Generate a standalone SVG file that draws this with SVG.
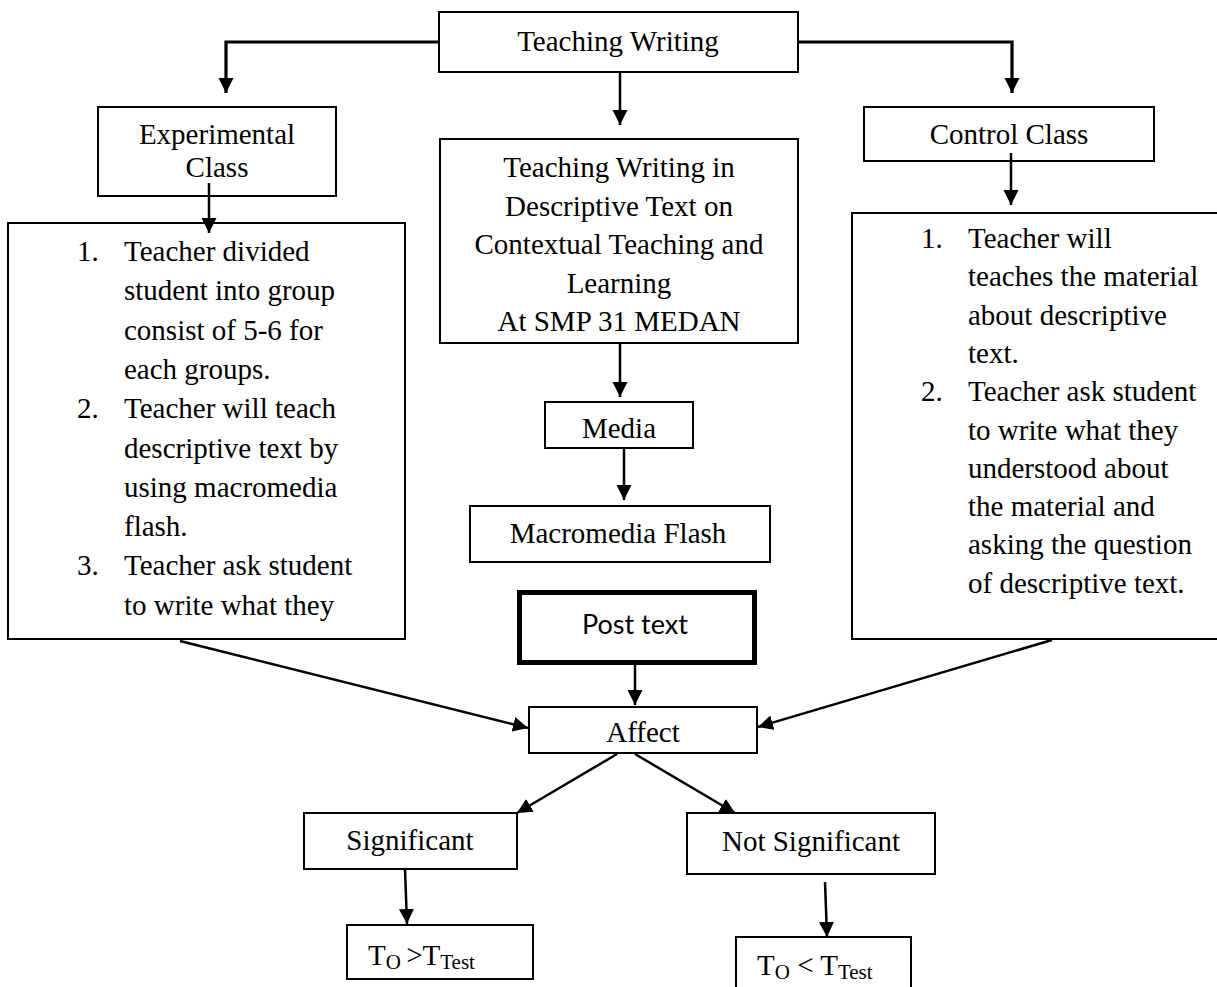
<svg xmlns="http://www.w3.org/2000/svg" width="1217" height="987" viewBox="0 0 1217 987">
<defs>
<marker id="ah" markerUnits="userSpaceOnUse" markerWidth="16" markerHeight="16" refX="15" refY="8" orient="auto">
<path d="M0,0.5 L15,8 L0,15.5 z" fill="#000"/>
</marker>
<style>
.box{fill:#fff;stroke:#000;stroke-width:2}
.t{font-family:"Liberation Serif","Times New Roman",serif;font-size:29px;fill:#000}
.c{text-anchor:middle}
.sub{font-size:21px}
.con{fill:none;stroke:#000;stroke-width:2.5}
.top{stroke-width:3.2}
.sans{font-family:Lato,"Noto Sans","Liberation Sans",sans-serif;font-size:27px;fill:#000;text-anchor:middle}
</style>
</defs>
<rect width="1217" height="987" fill="#fff"/>

<g id="teaching-writing">
<rect class="box" x="439" y="12" width="359" height="60"/>
<text class="t c" x="618" y="51">Teaching Writing</text>
</g>

<g id="experimental-class">
<rect class="box" x="98" y="107" width="238" height="89"/>
<text class="t c" x="217" y="144">Experimental</text>
<text class="t c" x="217" y="177">Class</text>
</g>

<g id="control-class">
<rect class="box" x="864" y="107" width="290" height="54"/>
<text class="t c" x="1009" y="144">Control Class</text>
</g>

<g id="center-topic">
<rect class="box" x="440" y="139" width="358" height="204"/>
<text class="t c" x="619" y="177">Teaching Writing in</text>
<text class="t c" x="619" y="215.5">Descriptive Text on</text>
<text class="t c" x="619" y="254">Contextual Teaching and</text>
<text class="t c" x="619" y="292.5">Learning</text>
<text class="t c" x="619" y="331">At SMP 31 MEDAN</text>
</g>

<g id="experimental-steps">
<rect class="box" x="8" y="223" width="397" height="416"/>
<text class="t" x="77" y="261">1.</text>
<text class="t" x="124" y="261">Teacher divided</text>
<text class="t" x="124" y="300.3">student into group</text>
<text class="t" x="124" y="339.6">consist of 5-6 for</text>
<text class="t" x="124" y="378.9">each groups.</text>
<text class="t" x="77" y="418.2">2.</text>
<text class="t" x="124" y="418.2">Teacher will teach</text>
<text class="t" x="124" y="457.5">descriptive text by</text>
<text class="t" x="124" y="496.8">using macromedia</text>
<text class="t" x="124" y="536.1">flash.</text>
<text class="t" x="77" y="575.4">3.</text>
<text class="t" x="124" y="575.4">Teacher ask student</text>
<text class="t" x="124" y="614.7">to write what they</text>
</g>

<g id="control-steps">
<rect class="box" x="852" y="213" width="370" height="426"/>
<text class="t" x="921" y="248">1.</text>
<text class="t" x="968" y="248">Teacher will</text>
<text class="t" x="968" y="286.3">teaches the material</text>
<text class="t" x="968" y="324.6">about descriptive</text>
<text class="t" x="968" y="362.9">text.</text>
<text class="t" x="921" y="401.2">2.</text>
<text class="t" x="968" y="401.2">Teacher ask student</text>
<text class="t" x="968" y="439.5">to write what they</text>
<text class="t" x="968" y="477.8">understood about</text>
<text class="t" x="968" y="516.1">the material and</text>
<text class="t" x="968" y="554.4">asking the question</text>
<text class="t" x="968" y="592.7">of descriptive text.</text>
</g>

<g id="media">
<rect class="box" x="545" y="402" width="148" height="46"/>
<text class="t c" x="619" y="438">Media</text>
</g>

<g id="macromedia-flash">
<rect class="box" x="470" y="506" width="300" height="56"/>
<text class="t c" x="618" y="543">Macromedia Flash</text>
</g>

<g id="post-text">
<rect x="519.5" y="592.5" width="235" height="70" fill="#fff" stroke="#000" stroke-width="5"/>
<text class="sans" x="635" y="634">Post text</text>
</g>

<g id="affect">
<rect class="box" x="529" y="707" width="228" height="46"/>
<text class="t c" x="643" y="742">Affect</text>
</g>

<g id="significant">
<rect class="box" x="304" y="813" width="213" height="56"/>
<text class="t c" x="410" y="850">Significant</text>
</g>

<g id="not-significant">
<rect class="box" x="687" y="813" width="248" height="61"/>
<text class="t c" x="811" y="851">Not Significant</text>
</g>

<g id="t-greater">
<rect class="box" x="347" y="925" width="186" height="54"/>
<text class="t" x="368" y="965">T<tspan class="sub" dy="4">O </tspan><tspan dy="-4">&gt;T</tspan><tspan class="sub" dy="4">Test</tspan></text>
</g>

<g id="t-less">
<rect class="box" x="736" y="937" width="175" height="60"/>
<text class="t" x="757" y="975">T<tspan class="sub" dy="4">O</tspan><tspan dy="-4"> &lt; T</tspan><tspan class="sub" dy="4">Test</tspan></text>
</g>

<g id="connectors">
<path class="con top" d="M439,42 H226 V93" marker-end="url(#ah)"/>
<path class="con top" d="M798,42 H1012 V93" marker-end="url(#ah)"/>
<path class="con" d="M620,72 V125" marker-end="url(#ah)"/>
<path class="con" d="M209,183 V233" marker-end="url(#ah)"/>
<path class="con" d="M1011,153 V205" marker-end="url(#ah)"/>
<path class="con" d="M620,343 V397" marker-end="url(#ah)"/>
<path class="con" d="M624,448 V500" marker-end="url(#ah)"/>
<path class="con" d="M635,665 V705" marker-end="url(#ah)"/>
<path class="con" d="M180,641 L528,728" marker-end="url(#ah)"/>
<path class="con" d="M1052,640 L758,727" marker-end="url(#ah)"/>
<path class="con" d="M617,754 L517,813" marker-end="url(#ah)"/>
<path class="con" d="M635,754 L735,813" marker-end="url(#ah)"/>
<path class="con" d="M405,869 L407,924" marker-end="url(#ah)"/>
<path class="con" d="M825,882 L827,937" marker-end="url(#ah)"/>
</g>
</svg>
